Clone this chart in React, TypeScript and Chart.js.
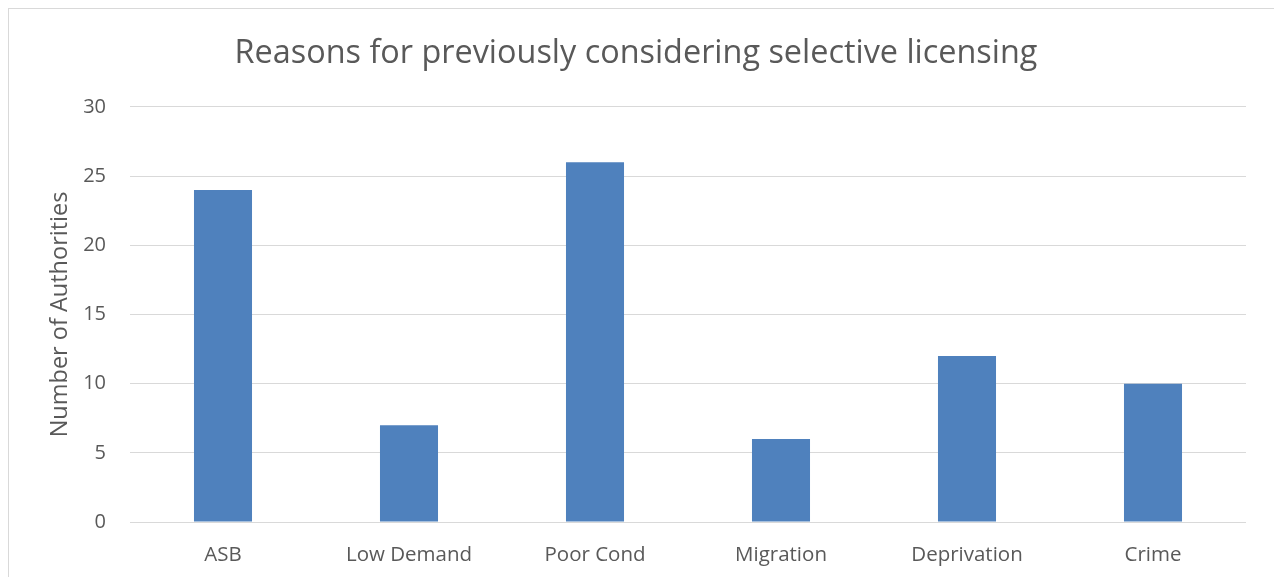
import React, { useEffect, useRef } from "react";
import { Chart, registerables } from "chart.js";

Chart.register(...registerables);

const categories: string[] = ["ASB", "Low Demand", "Poor Cond", "Migration", "Deprivation", "Crime"];
const authorities: number[] = [24, 7, 26, 6, 12, 10];
const yTicks: number[] = [0, 5, 10, 15, 20, 25, 30];

const TEXT = "#595959";
const GRID = "#d9d9d9";
const BAR = "#4f81bd";
const FONT = "'Open Sans', 'DejaVu Sans', sans-serif";

const W = 1274;
const H = 577;

export default function App() {
  const canvasRef = useRef<HTMLCanvasElement | null>(null);

  useEffect(() => {
    const canvas = canvasRef.current;
    if (!canvas) return;
    const chart = new Chart(canvas, {
      type: "bar",
      data: {
        labels: categories,
        datasets: [
          {
            label: "Number of Authorities",
            data: authorities,
            backgroundColor: BAR,
            borderWidth: 0,
            categoryPercentage: 1,
            barPercentage: 0.312,
          },
        ],
      },
      options: {
        responsive: false,
        animation: false,
        devicePixelRatio: 1,
        layout: { padding: { left: 26, right: 28, top: 0, bottom: 0 } },
        plugins: {
          legend: { display: false },
          tooltip: { enabled: false },
          title: {
            display: true,
            text: "Reasons for previously considering selective licensing",
            color: TEXT,
            font: { family: FONT, size: 32.4, weight: "normal" },
            padding: { top: 34, bottom: 34.1 },
          },
        },
        scales: {
          x: {
            grid: { display: false },
            border: { display: false },
            ticks: {
              color: TEXT,
              font: { family: FONT, size: 20.5 },
              padding: 13,
              maxRotation: 0,
            },
            afterFit: (scale: any) => {
              scale.height = 55;
            },
          },
          y: {
            min: 0,
            max: 30,
            afterBuildTicks: (scale: any) => {
              scale.ticks = yTicks.map((v) => ({ value: v }));
            },
            grid: { color: GRID, lineWidth: 1, drawTicks: false },
            border: { display: false },
            ticks: {
              color: TEXT,
              font: { family: FONT, size: 20 },
              padding: 24,
            },
            title: {
              display: true,
              text: "Number of Authorities",
              color: TEXT,
              font: { family: FONT, size: 23.5 },
              padding: { top: 19.9, bottom: 0 },
            },
            afterFit: (scale: any) => {
              scale.width = 104;
            },
          },
        },
      },
    });
    return () => chart.destroy();
  }, []);

  return (
    <div style={{ position: "fixed", inset: 0, overflow: "hidden", background: "#fff" }}>
      <div
        style={{
          position: "absolute",
          left: 8,
          top: 8,
          width: 1320,
          height: 620,
          border: `1px solid ${GRID}`,
          boxSizing: "border-box",
        }}
      />
      <canvas
        ref={canvasRef}
        width={W}
        height={H}
        style={{ position: "absolute", left: 0, top: 0, width: W, height: H }}
      />
    </div>
  );
}
